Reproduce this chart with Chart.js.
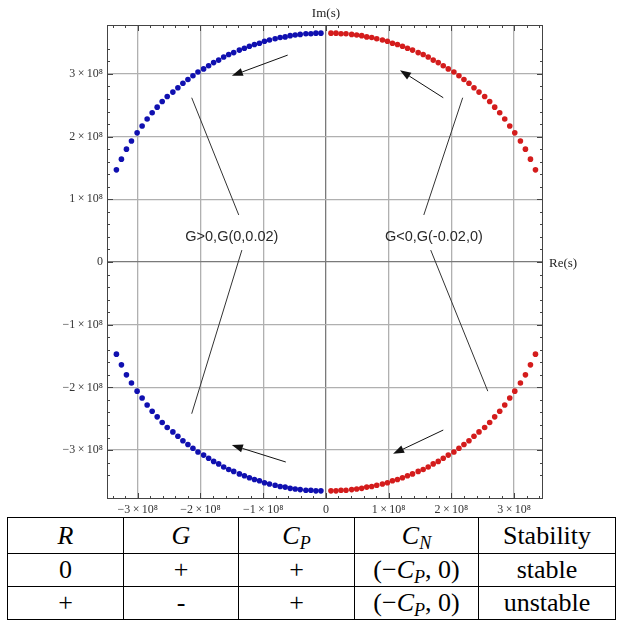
<!DOCTYPE html>
<html>
<head>
<meta charset="utf-8">
<script src="https://cdn.jsdelivr.net/npm/chart.js@4.4.1/dist/chart.umd.min.js"></script>
<style>
  html, body { margin: 0; padding: 0; background: #fff; }
  #wrap { position: absolute; left: 0; top: 0; width: 621px; height: 516px; }
  table { position: absolute; left: 7px; top: 517px; width: 608px; table-layout: fixed; border-collapse: collapse;
          font-family: "Liberation Serif", "Times New Roman", serif; font-size: 26px; color: #000; }
  td { border: 1.5px solid #000; text-align: center; padding: 0; height: 32px; line-height: 30px; overflow: hidden; }
  tr.h td { height: 35px; }
  .m { font-style: italic; }
  sub { font-size: 18px; font-style: italic; vertical-align: -5px; line-height: 0; }
</style>
</head>
<body>
<div id="wrap"><canvas id="c" width="621" height="516"></canvas></div>
<table>
  <colgroup><col style="width:116px"><col style="width:115px"><col style="width:116px"><col style="width:124px"><col style="width:137px"></colgroup>
  <tr class="h"><td><span class="m">R</span></td><td><span class="m">G</span></td><td><span class="m">C</span><sub>P</sub></td><td><span class="m">C</span><sub>N</sub></td><td>Stability</td></tr>
  <tr><td>0</td><td>+</td><td>+</td><td>(−<span class="m">C</span><sub>P</sub>, 0)</td><td>stable</td></tr>
  <tr><td>+</td><td>-</td><td>+</td><td>(−<span class="m">C</span><sub>P</sub>, 0)</td><td>unstable</td></tr>
</table>
<script>
// Values in units of 1e8
const blueRe = [-3.34,-3.26,-3.18,-3.10,-3.01,-2.93,-2.85,-2.77,-2.69,-2.61,-2.53,-2.44,-2.36,-2.28,-2.20,-2.12,-2.04,-1.95,-1.87,-1.79,-1.71,-1.63,-1.55,-1.47,-1.38,-1.30,-1.22,-1.14,-1.06,-0.98,-0.90,-0.81,-0.73,-0.65,-0.57,-0.49,-0.41,-0.32,-0.24,-0.16,-0.08];
const redRe = [3.34,3.26,3.18,3.10,3.01,2.93,2.85,2.77,2.69,2.61,2.53,2.44,2.36,2.28,2.20,2.12,2.04,1.95,1.87,1.79,1.71,1.63,1.55,1.47,1.38,1.30,1.22,1.14,1.06,0.98,0.90,0.81,0.73,0.65,0.57,0.49,0.41,0.32,0.24,0.16,0.08];
const upperIm = [1.47,1.64,1.80,1.93,2.06,2.17,2.28,2.38,2.47,2.56,2.64,2.71,2.78,2.85,2.91,2.97,3.03,3.08,3.13,3.18,3.22,3.27,3.31,3.34,3.38,3.41,3.44,3.47,3.49,3.52,3.54,3.56,3.58,3.59,3.61,3.62,3.63,3.64,3.64,3.65,3.65];
const lowerIm = [-1.47,-1.64,-1.80,-1.93,-2.06,-2.17,-2.28,-2.38,-2.47,-2.56,-2.64,-2.71,-2.78,-2.85,-2.91,-2.97,-3.03,-3.08,-3.13,-3.18,-3.22,-3.27,-3.31,-3.34,-3.38,-3.41,-3.44,-3.47,-3.49,-3.52,-3.54,-3.56,-3.58,-3.59,-3.61,-3.62,-3.63,-3.64,-3.64,-3.65,-3.65];

const xTicks = [-3,-2,-1,0,1,2,3];
const xTickLabels = ['\u22123\u2009\u00d7\u200910\u2078','\u22122\u2009\u00d7\u200910\u2078','\u22121\u2009\u00d7\u200910\u2078','0','1\u2009\u00d7\u200910\u2078','2\u2009\u00d7\u200910\u2078','3\u2009\u00d7\u200910\u2078'];
const yTicks = [-3,-2,-1,0,1,2,3];
const yTickLabels = ['\u22123\u2009\u00d7\u200910\u2078','\u22122\u2009\u00d7\u200910\u2078','\u22121\u2009\u00d7\u200910\u2078','0','1\u2009\u00d7\u200910\u2078','2\u2009\u00d7\u200910\u2078','3\u2009\u00d7\u200910\u2078'];

// annotation labels and lines (data units)
const labels = [
  { text: 'G>0,G(0,0.02)', x: -1.50, y: 0.40 },
  { text: 'G<0,G(-0.02,0)', x: 1.72, y: 0.40 }
];
const leaderLines = [
  [-2.14, 2.62, -1.39, 0.75],
  [-1.34, 0.19, -2.14, -2.42],
  [2.18, 2.62, 1.56, 0.75],
  [1.67, 0.19, 2.58, -2.06]
];
const arrows = [
  [-0.61, 3.30, -1.50, 2.97],
  [1.87, 2.62, 1.18, 3.06],
  [-0.64, -3.19, -1.50, -2.92],
  [1.87, -2.68, 1.07, -3.06]
];

const BLUE = '#1010b0';
const RED = '#d41c1c';
const TICK_FONT = { family: '"Liberation Serif", "Times New Roman", serif', size: 12 };

function pts(xs, ys) { return xs.map((x, i) => ({ x: x, y: ys[i] })); }

const framePlugin = {
  id: 'frame',
  beforeDatasetsDraw(chart) {
    const ctx = chart.ctx, a = chart.chartArea, xs = chart.scales.x, ys = chart.scales.y;
    ctx.save();
    ctx.strokeStyle = '#444';
    ctx.lineWidth = 1;
    ctx.strokeRect(a.left + 0.5, a.top + 0.5, a.right - a.left - 1, a.bottom - a.top - 1);
    ctx.beginPath();
    for (let k = -17; k <= 17; k++) {
      const v = k / 5;
      const major = k % 5 === 0;
      const len = major ? 6 : 3;
      if (v >= xs.min && v <= xs.max) {
        const px = Math.round(xs.getPixelForValue(v)) + 0.5;
        ctx.moveTo(px, a.bottom); ctx.lineTo(px, a.bottom - len);
        ctx.moveTo(px, a.top); ctx.lineTo(px, a.top + len);
      }
      if (v >= ys.min && v <= ys.max) {
        const py = Math.round(ys.getPixelForValue(v)) + 0.5;
        ctx.moveTo(a.left, py); ctx.lineTo(a.left + len, py);
        ctx.moveTo(a.right, py); ctx.lineTo(a.right - len, py);
      }
    }
    ctx.stroke();
    ctx.fillStyle = '#222';
    ctx.font = '13px "Liberation Serif", "Times New Roman", serif';
    ctx.textBaseline = 'middle';
    ctx.textAlign = 'center';
    ctx.fillText('Im(s)', xs.getPixelForValue(0), 14);
    ctx.textAlign = 'left';
    ctx.fillText('Re(s)', a.right + 6, ys.getPixelForValue(0) + 2);
    ctx.restore();
  },
  afterDatasetsDraw(chart) {
    const ctx = chart.ctx, xs = chart.scales.x, ys = chart.scales.y;
    const X = v => xs.getPixelForValue(v), Y = v => ys.getPixelForValue(v);
    ctx.save();
    ctx.strokeStyle = '#333';
    ctx.lineWidth = 1;
    leaderLines.forEach(l => {
      ctx.beginPath(); ctx.moveTo(X(l[0]), Y(l[1])); ctx.lineTo(X(l[2]), Y(l[3])); ctx.stroke();
    });
    ctx.strokeStyle = '#111';
    ctx.fillStyle = '#111';
    arrows.forEach(l => {
      const x1 = X(l[0]), y1 = Y(l[1]), x2 = X(l[2]), y2 = Y(l[3]);
      const ang = Math.atan2(y2 - y1, x2 - x1);
      const hl = 11, hw = 4;
      const bx = x2 - hl * Math.cos(ang), by = y2 - hl * Math.sin(ang);
      ctx.beginPath(); ctx.moveTo(x1, y1); ctx.lineTo(bx, by); ctx.stroke();
      ctx.beginPath();
      ctx.moveTo(x2, y2);
      ctx.lineTo(bx + hw * Math.sin(ang), by - hw * Math.cos(ang));
      ctx.lineTo(bx - hw * Math.sin(ang), by + hw * Math.cos(ang));
      ctx.closePath(); ctx.fill();
    });
    ctx.fillStyle = '#2a2a2a';
    ctx.font = '14.5px "Liberation Sans", Arial, sans-serif';
    ctx.textAlign = 'center';
    ctx.textBaseline = 'middle';
    labels.forEach(t => ctx.fillText(t.text, X(t.x), Y(t.y)));
    ctx.restore();
  }
};

const gridColor = ctx => (ctx.tick && ctx.tick.value === 0) ? '#7a7a7a' : '#b0b0b0';

new Chart(document.getElementById('c'), {
  type: 'scatter',
  data: {
    datasets: [
      { data: pts(blueRe, upperIm), backgroundColor: BLUE },
      { data: pts(redRe, upperIm), backgroundColor: RED },
      { data: pts(blueRe, lowerIm), backgroundColor: BLUE },
      { data: pts(redRe, lowerIm), backgroundColor: RED }
    ]
  },
  options: {
    responsive: false,
    animation: false,
    devicePixelRatio: 1,
    elements: { point: { radius: 2.8, borderWidth: 0, hoverRadius: 2.8 } },
    layout: { padding: { left: 47, top: 25, right: 78, bottom: 0 } },
    plugins: { legend: { display: false }, tooltip: { enabled: false }, title: { display: false } },
    scales: {
      x: {
        type: 'linear', min: -3.49, max: 3.46,
        afterBuildTicks: s => { s.ticks = xTicks.map(v => ({ value: v })); },
        afterFit: s => { s.height = 17; },
        border: { display: false },
        grid: { color: gridColor, lineWidth: 1.3, drawTicks: false },
        ticks: {
          padding: 4, color: '#333', font: TICK_FONT, maxRotation: 0, autoSkip: false,
          callback: v => xTickLabels[xTicks.indexOf(v)]
        }
      },
      y: {
        type: 'linear', min: -3.78, max: 3.78,
        afterBuildTicks: s => { s.ticks = yTicks.map(v => ({ value: v })); },
        afterFit: s => { s.width = 60; },
        border: { display: false },
        grid: { color: gridColor, lineWidth: 1.3, drawTicks: false },
        ticks: {
          padding: 4, color: '#333', font: TICK_FONT, autoSkip: false,
          callback: v => yTickLabels[yTicks.indexOf(v)]
        }
      }
    }
  },
  plugins: [framePlugin]
});
</script>
</body>
</html>
